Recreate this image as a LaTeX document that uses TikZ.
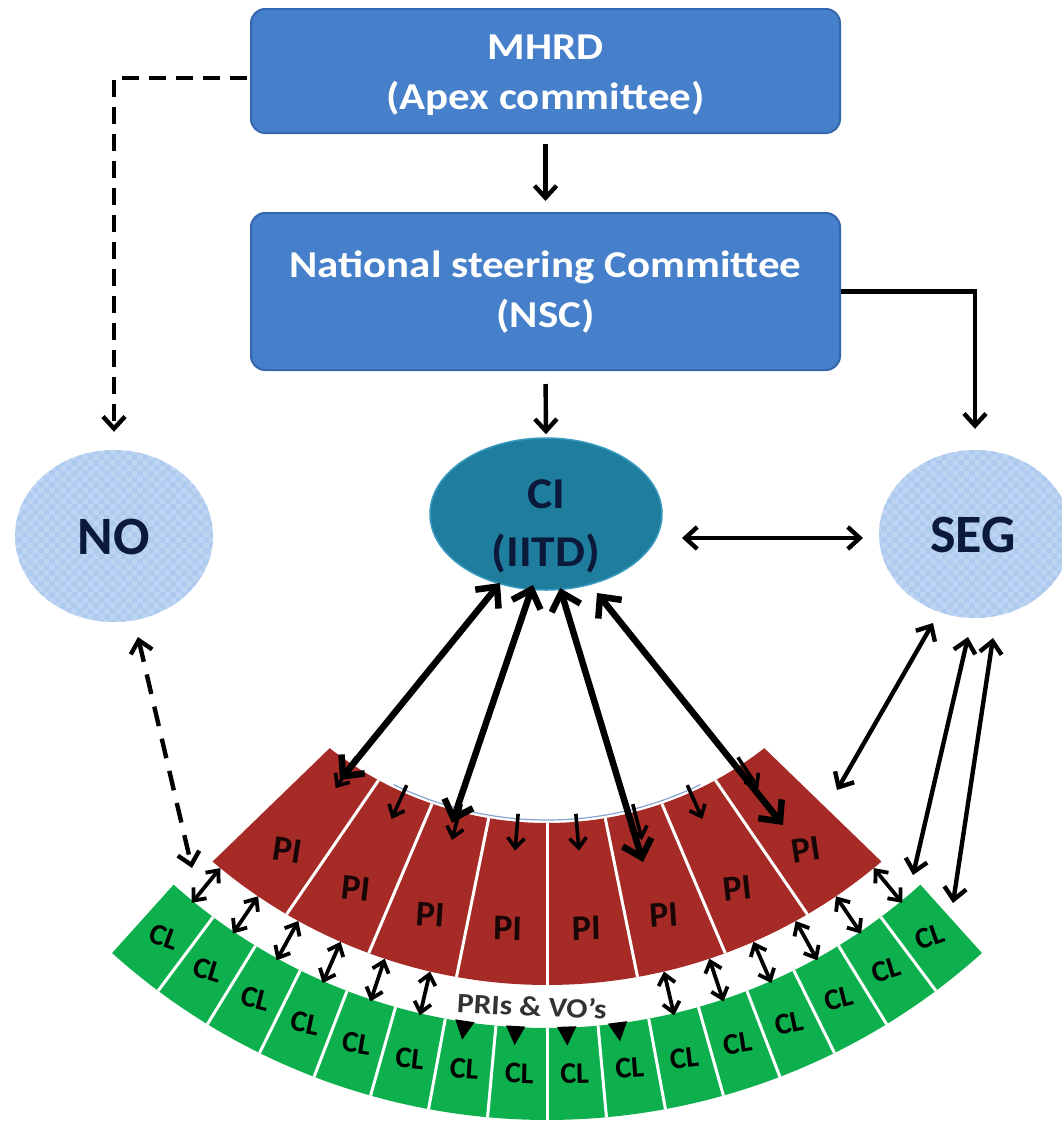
\documentclass[tikz,border=0pt]{standalone}
\usepackage{fontspec}
\setmainfont{Carlito}
\usetikzlibrary{arrows.meta,shapes.geometric,patterns}
\definecolor{boxblue}{HTML}{4680CA}
\definecolor{boxedge}{HTML}{3467AE}
\definecolor{citeal}{HTML}{1F7D9E}
\definecolor{ciedge}{HTML}{3A9AC0}
\definecolor{lightb}{HTML}{BDD4F3}
\definecolor{lightbd}{HTML}{AFCAEF}
\definecolor{pired}{HTML}{A62A26}
\definecolor{clgreen}{HTML}{0DB04C}
\definecolor{navy}{HTML}{0B1A3A}
\tikzset{
  myhead/.tip={Straight Barb[length=12pt,width=22pt]},
  bighead/.tip={Straight Barb[length=16pt,width=30pt]},
  smallhead/.tip={Straight Barb[length=10pt,width=17pt]},
  boxshape/.style={draw=boxedge, line width=2pt, fill=boxblue, rounded corners=14pt,
    minimum width=589pt, inner sep=0pt},
  boxtext/.style={text=white, align=center, xscale=1.13,
    font=\fontsize{38}{50}\selectfont\bfseries},
  softell/.style={ellipse, inner sep=0pt, preaction={fill=lightb},
    pattern=checkerboard, pattern color=lightbd},
  elltext/.style={text=navy, align=center, font=\fontsize{54}{60}\selectfont\bfseries},
  conn/.style={line width=4.4pt, -myhead},
  dconn/.style={line width=4.4pt, myhead-myhead},
  dashconn/.style={line width=4.4pt, dash pattern=on 17pt off 10pt, -myhead},
  dashdconn/.style={line width=4.4pt, dash pattern=on 20pt off 13pt, myhead-myhead},
  bigarr/.style={line width=6.5pt, bighead-bighead},
  segarr/.style={line width=4.4pt, myhead-myhead},
  gaparr/.style={line width=3.8pt, smallhead-smallhead},
  downarr/.style={line width=3.6pt, -smallhead},
  pitext/.style={inner sep=0pt, font=\fontsize{36}{40}\selectfont\bfseries, text=black!85!pired},
  cltext/.style={inner sep=0pt, font=\fontsize{30}{34}\selectfont\bfseries, text=black},
}
\begin{document}
\begin{tikzpicture}[x=1pt,y=-1pt]
\useasboundingbox (0,0) rectangle (1062,1125);

% ---- boxes
\node[boxshape, minimum height=124pt] (mhrd) at (545.5,71) {};
\node[boxtext] (mhrdtxt) at (545.5,75) {MHRD\\(Apex committee)};
\node[boxshape, minimum height=157pt] (nsc) at (545.5,291.5) {};
\node[boxtext] (nsctxt) at (545.5,292) {National steering Committee\\(NSC)};

% ---- ellipses
\node[softell, minimum width=198pt, minimum height=172pt] (no) at (114,536) {};
\node[elltext] (notxt) at (114,537) {NO};
\node[softell, minimum width=192pt, minimum height=168pt] (seg) at (975,534) {};
\node[elltext] (segtxt) at (973,535) {SEG};
\node[ellipse, inner sep=0pt, fill=citeal, draw=ciedge, line width=1.5pt,
      minimum width=232pt, minimum height=152pt] (ci) at (546,514) {};
\node[text=navy, align=center, xscale=1.08, font=\fontsize{44}{58}\selectfont\bfseries]
      (citxt) at (546,526) {CI\\(IITD)};

% ---- PI ring
\fill[pired] plot[domain=-38:38, samples=90] ({547+353*sin(\x)},{470+353*cos(\x)})
   -- plot[domain=40.5:-40.5, samples=90] ({547+515*sin(\x)},{470+515*cos(\x)}) -- cycle;
\foreach \k in {-3,...,3}
  \draw[white, line width=3pt] ({547+353*sin(9.5*\k)},{470+353*cos(9.5*\k)})
     -- ({547+515*sin(10.125*\k)},{470+515*cos(10.125*\k)});
\draw[boxedge!60, line width=1.2pt] plot[domain=-26:26, samples=60] ({547+350*sin(\x)},{470+350*cos(\x)});
\foreach \k in {-3.5,-2.5,...,3.5}
  \node[pitext, rotate=2.5*\k] at ({547+460*sin(9.8*\k)},{470+460*cos(9.8*\k)}) {PI};

% ---- CL ring
\fill[clgreen] plot[domain=-42:42, samples=100] ({547+558*sin(\x)},{470+558*cos(\x)})
   -- plot[domain=42:-42, samples=100] ({547+650*sin(\x)},{470+650*cos(\x)}) -- cycle;
\foreach \k in {-7,...,7}
  \draw[white, line width=3pt] ({547+558*sin(5.25*\k)},{470+558*cos(5.25*\k)})
     -- ({547+650*sin(5.25*\k)},{470+650*cos(5.25*\k)});
\foreach \k in {-7.5,-6.5,...,7.5}
  \node[cltext, rotate=2.6*\k] at ({547+604*sin(5.25*\k)},{470+604*cos(5.25*\k)}) {CL};

% ---- small arrows inside PI
\foreach \k in {-3.5,-2.5,...,3.5}
  \draw[downarr] ({547+345*sin(9.6*\k)},{470+345*cos(9.6*\k)})
     -- ({547+382*sin(9.6*\k)},{470+382*cos(9.6*\k)});

% ---- PI <-> CL arrows
\foreach \k in {-7.5,-6.5,-5.5,-4.5,-3.5,-2.5,2.5,3.5,4.5,5.5,6.5,7.5}
  \draw[gaparr] ({547+515*sin(5.25*\k)},{470+515*cos(5.25*\k)})
     -- ({547+560*sin(5.25*\k)},{470+560*cos(5.25*\k)});
\foreach \k in {-1.5,-0.5,0.5,1.5}
  \fill ({547+576*sin(5.25*\k-0.6)},{470+576*cos(5.25*\k-0.6)})
     -- ({547+557*sin(5.25*\k-1.6)},{470+557*cos(5.25*\k-1.6)})
     -- ({547+557*sin(5.25*\k+0.4)},{470+557*cos(5.25*\k+0.4)}) -- cycle;
\node[font=\fontsize{28}{30}\selectfont\bfseries, xscale=1.12, text=black!80, rotate=-3]
   (pri) at (532,1006) {PRIs \& VO’s};

% ---- main connectors
\draw[conn, shorten <=10pt, shorten >=11pt] (mhrd.south) -- (nsc.north);
\draw[conn, shorten <=13pt, shorten >=3pt] (nsc.south) -- (ci.north);
\draw[conn, shorten >=21pt] (nsc.east) -| (seg.north);
\coordinate (mw) at (247,78);
\draw[dashconn, shorten >=18pt] (mw) -| (no.north);
\coordinate (cie) at (682,538);
\coordinate (segw) at (863,538);
\draw[dconn] (cie) -- (segw);

% ---- CI <-> PI big arrows
\coordinate (c1) at (500,583); \coordinate (p1) at (340,780);
\coordinate (c2) at (533,585); \coordinate (p2) at (452,823);
\coordinate (c3) at (560,588); \coordinate (p3) at (643,862);
\coordinate (c4) at (597,593); \coordinate (p4) at (783,825);
\foreach \i in {1,...,4} \draw[bigarr] (c\i) -- (p\i);

% ---- SEG arrows
\coordinate (s1) at (933,623); \coordinate (t1) at (837,790);
\coordinate (s2) at (968,637); \coordinate (t2) at (913,875);
\coordinate (s3) at (993,638); \coordinate (t3) at (953,903);
\foreach \i in {1,2,3} \draw[segarr] (s\i) -- (t\i);

% ---- NO dashed arrow
\coordinate (nob) at (138,637); \coordinate (clA) at (192,868);
\draw[dashdconn] (nob) -- (clA);
\end{tikzpicture}
\end{document}
